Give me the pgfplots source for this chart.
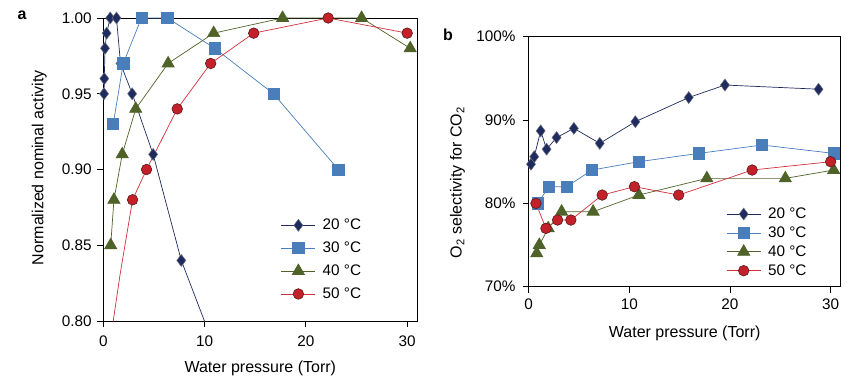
\documentclass[border=0pt]{standalone}
\usepackage{fontspec}
\setmainfont{Liberation Sans}
\usepackage{pgfplots}
\pgfplotsset{compat=1.18}

\definecolor{navy}{HTML}{1F2A5E}
\definecolor{navyedge}{HTML}{6A7080}
\definecolor{sqblue}{HTML}{4A7EBB}
\definecolor{olive}{HTML}{4F6228}
\definecolor{cred}{HTML}{C3202A}
\definecolor{credline}{HTML}{D0303C}
\definecolor{credge}{HTML}{5A1A1A}

\pgfplotsset{
  mystyle/.style={
    scale only axis,
    axis line style={black, line width=0.9pt},
    tick align=outside,
    major tick length=6pt,
    tick style={black, line width=0.9pt},
    xtick pos=bottom, ytick pos=left,
    tick label style={font=\fontsize{15.3}{18}\selectfont},
    label style={font=\fontsize{16}{19}\selectfont},
    /pgf/number format/assume math mode=true,
    xmin=0, xmax=31, xtick={0,10,20,30},
    legend style={draw=none, fill=none, font=\fontsize{15.3}{18}\selectfont,
      cells={anchor=west}, inner sep=0pt, outer sep=0pt,
      /tikz/column 1/.style={column sep=5pt}},
    legend image code/.code={\draw[##1, mark indices={2}] plot coordinates {(0pt,0pt)(17pt,0pt)(34pt,0pt)};},
  },
  s20/.style={color=navy, line width=0.7pt, mark=diamond*, mark size=6pt,
    mark options={fill=navy, draw=navyedge, line width=0.5pt}},
  s30/.style={color=sqblue, line width=0.7pt, mark=square*, mark size=5.6pt,
    mark options={fill=sqblue, draw=sqblue}},
  s40/.style={color=olive, line width=0.7pt, mark=triangle*, mark size=7pt,
    mark options={fill=olive, draw=olive}},
  s50/.style={color=credline, line width=0.7pt, mark=*, mark size=5.3pt,
    mark options={fill=cred, draw=credge, line width=0.6pt}},
}

\begin{document}
\begin{tikzpicture}
\useasboundingbox (0,0) rectangle (860pt,386pt);

\node[font=\bfseries\fontsize{16}{19}\selectfont] at (22pt,371pt) {a};
\node[font=\bfseries\fontsize{16}{19}\selectfont] at (448pt,351pt) {b};

% ---------- panel a ----------
\begin{axis}[mystyle,
  at={(103.3pt,65pt)}, anchor=south west,
  width=314pt, height=303pt,
  ymin=0.80, ymax=1.00, ytick={0.80,0.85,0.90,0.95,1.00},
  xticklabel style={yshift=-5.6pt},
  yticklabel style={/pgf/number format/fixed, /pgf/number format/fixed zerofill,
    /pgf/number format/precision=2, xshift=-2.2pt},
  xlabel={Water pressure (Torr)},
  ylabel={Normalized nominal activity},
  xlabel style={at={(axis description cs:0.5,-0.1706)}, anchor=base},
  ylabel style={at={(axis description cs:-0.191,0.506)}, anchor=base},
  legend style={at={(axis description cs:0.566,0.3425)}, anchor=north west,
    /tikz/row sep=6.7pt},
]
\addplot[s20, mark indices={1,2,3,4,5,6,7,8,9,10}] coordinates {
 (0.07,0.950) (0.10,0.960) (0.17,0.980) (0.33,0.990) (0.68,1.000) (1.30,1.000)
 (1.70,0.970) (2.85,0.950) (4.92,0.910) (7.70,0.840) (11.3,0.777)};
\addlegendentry{20 °C}
\addplot[s30] coordinates {
 (0.98,0.930) (1.97,0.970) (3.77,1.000) (6.33,1.000) (11.0,0.980) (16.8,0.950) (23.2,0.900)};
\addlegendentry{30 °C}
\addplot[s40] coordinates {
 (0.73,0.850) (1.05,0.880) (1.87,0.910) (3.20,0.940) (6.40,0.970) (10.9,0.990)
 (17.7,1.000) (25.5,1.000) (30.3,0.980)};
\addlegendentry{40 °C}
\addplot[s50, mark indices={2,3,4,5,6,7,8,9}] coordinates {
 (0.54,0.780) (1.64,0.830) (2.89,0.880) (4.27,0.900) (7.30,0.940) (10.6,0.970)
 (14.85,0.990) (22.2,1.000) (30.0,0.990)};
\addlegendentry{50 °C}
\end{axis}

% ---------- panel b ----------
\begin{axis}[mystyle,
  at={(528.7pt,99.3pt)}, anchor=south west,
  width=312pt, height=250pt,
  ymin=70, ymax=100, ytick={70,80,90,100},
  yticklabel={\pgfmathprintnumber{\tick}\%},
  xticklabel style={yshift=-2.2pt},
  yticklabel style={xshift=-3.6pt},
  xlabel={Water pressure (Torr)},
  ylabel={O\textsubscript{2} selectivity for CO\textsubscript{2}},
  xlabel style={at={(axis description cs:0.5,-0.204)}, anchor=base},
  ylabel style={at={(axis description cs:-0.2147,0.417)}, anchor=base},
  legend style={at={(axis description cs:0.6335,0.323)}, anchor=north west,
    /tikz/row sep=2.7pt},
]
\addplot[s20] coordinates {
 (0.23,84.7) (0.55,85.6) (1.19,88.7) (1.78,86.5) (2.77,87.9) (4.49,89.0)
 (7.06,87.2) (10.6,89.8) (15.9,92.7) (19.5,94.2) (28.8,93.7)};
\addlegendentry{20 °C}
\addplot[s30] coordinates {
 (0.89,80.0) (2.00,82.0) (3.76,82.0) (6.30,84.0) (10.95,85.0) (16.9,86.0) (23.2,87.0) (30.3,86.0)};
\addlegendentry{30 °C}
\addplot[s40] coordinates {
 (0.80,74.0) (1.05,75.0) (1.94,77.0) (3.27,79.0) (6.40,79.0) (10.95,81.0)
 (17.7,83.0) (25.5,83.0) (30.3,84.0)};
\addlegendentry{40 °C}
\addplot[s50] coordinates {
 (0.72,80.0) (1.71,77.0) (2.87,78.0) (4.19,78.0) (7.30,81.0) (10.5,82.0)
 (14.9,81.0) (22.2,84.0) (30.0,85.0)};
\addlegendentry{50 °C}
\end{axis}
\end{tikzpicture}
\end{document}
